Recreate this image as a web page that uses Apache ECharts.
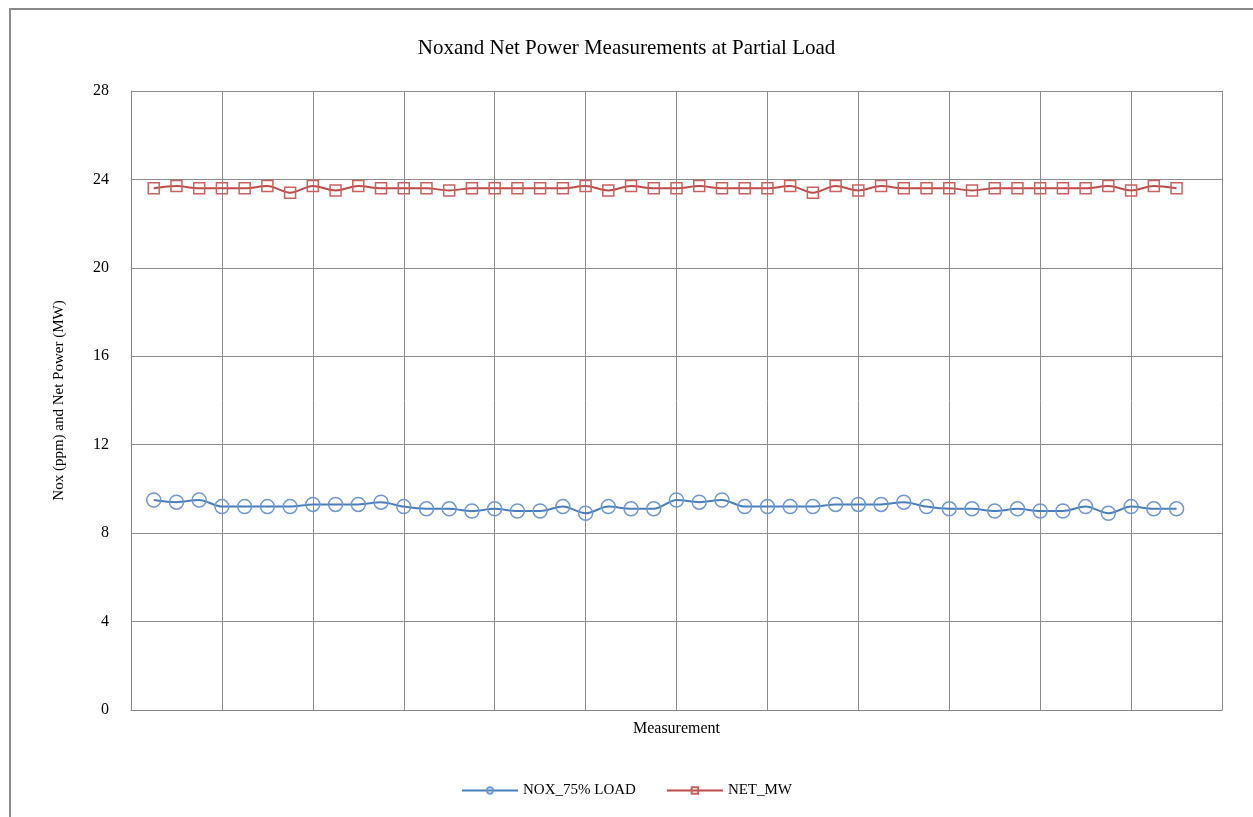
<!DOCTYPE html>
<html>
<head>
<meta charset="utf-8">
<script src="https://cdn.jsdelivr.net/npm/echarts@6/dist/echarts.min.js"></script>
<style>
html,body{margin:0;padding:0;background:#fff;}
#frame{position:absolute;left:9px;top:8px;width:1250px;height:820px;border:2px solid #8a8a8a;box-sizing:border-box;}
#chart{position:absolute;left:0;top:0;width:1253px;height:817px;}
</style>
</head>
<body>
<div id="frame"></div>
<div id="chart"></div>
<script>
const measurements = [1,2,3,4,5,6,7,8,9,10,11,12,13,14,15,16,17,18,19,20,21,22,23,24,25,26,27,28,29,30,31,32,33,34,35,36,37,38,39,40,41,42,43,44,45,46];
const noxLoad = [9.5,9.4,9.5,9.2,9.2,9.2,9.2,9.3,9.3,9.3,9.4,9.2,9.1,9.1,9.0,9.1,9.0,9.0,9.2,8.9,9.2,9.1,9.1,9.5,9.4,9.5,9.2,9.2,9.2,9.2,9.3,9.3,9.3,9.4,9.2,9.1,9.1,9.0,9.1,9.0,9.0,9.2,8.9,9.2,9.1,9.1];
const netMW = [23.6,23.7,23.6,23.6,23.6,23.7,23.4,23.7,23.5,23.7,23.6,23.6,23.6,23.5,23.6,23.6,23.6,23.6,23.6,23.7,23.5,23.7,23.6,23.6,23.7,23.6,23.6,23.6,23.7,23.4,23.7,23.5,23.7,23.6,23.6,23.6,23.5,23.6,23.6,23.6,23.6,23.6,23.7,23.5,23.7,23.6];
const yTicks = [0,4,8,12,16,20,24,28];
const seriesNames = ['NOX_75% LOAD','NET_MW'];

const chart = echarts.init(document.getElementById('chart'), null, {renderer:'canvas'});
const font = '"Liberation Serif","DejaVu Serif",serif';
chart.setOption({
  animation:false,
  backgroundColor:'transparent',
  title:{
    text:'Noxand Net Power Measurements at Partial Load',
    left:'center', top:33,
    textStyle:{fontFamily:font,fontSize:21,fontWeight:'normal',color:'#000'}
  },
  legend:{
    bottom:14, left:'center',
    itemWidth:56, itemHeight:8, itemGap:30,
    textStyle:{fontFamily:font,fontSize:15,color:'#000'},
    data:seriesNames
  },
  grid:{left:131,right:31,top:91,bottom:107,containLabel:false},
  xAxis:{
    type:'value', min:0, max:48, interval:4,
    name:'Measurement', nameLocation:'middle', nameGap:11,
    nameTextStyle:{fontFamily:font,fontSize:16,color:'#000'},
    axisLabel:{show:false}, axisTick:{show:false},
    axisLine:{show:true,lineStyle:{color:'#868686',width:1}},
    splitLine:{show:true,lineStyle:{color:'#8c8c8c',width:1}}
  },
  yAxis:{
    type:'value', min:yTicks[0], max:yTicks[yTicks.length-1], interval:4,
    name:'Nox (ppm) and Net Power (MW)', nameLocation:'middle', nameGap:64,
    nameTextStyle:{fontFamily:font,fontSize:15,color:'#000'},
    axisLabel:{fontFamily:font,fontSize:16,color:'#000',margin:22},
    axisTick:{show:false},
    axisLine:{show:true,lineStyle:{color:'#868686',width:1}},
    splitLine:{show:true,lineStyle:{color:'#8c8c8c',width:1}}
  },
  series:[
    {
      name:seriesNames[0], type:'line', smooth:0.3,
      data:measurements.map((m,i)=>[m,noxLoad[i]]),
      symbol:'circle', symbolSize:14, showAllSymbol:true,
      lineStyle:{color:'#4a7ebb',width:2},
      itemStyle:{color:'rgba(255,255,255,0)',borderColor:'#6f98cf',borderWidth:1.5},
      emphasis:{disabled:true}
    },
    {
      name:seriesNames[1], type:'line', smooth:0.3,
      data:measurements.map((m,i)=>[m,netMW[i]]),
      symbol:'rect', symbolSize:11, showAllSymbol:true,
      lineStyle:{color:'#be4b48',width:2},
      itemStyle:{color:'rgba(255,255,255,0)',borderColor:'#c9625f',borderWidth:1.5},
      emphasis:{disabled:true}
    }
  ]
});
</script>
</body>
</html>
